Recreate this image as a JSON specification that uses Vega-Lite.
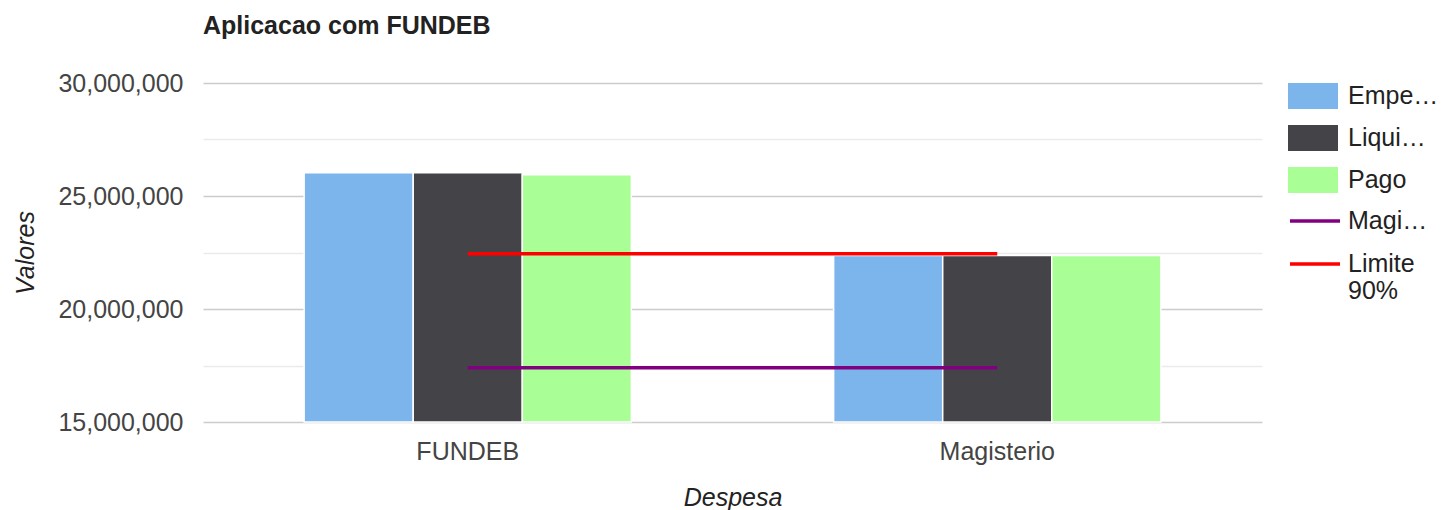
{
  "$schema": "https://vega.github.io/schema/vega-lite/v6.json",
  "width": 1059,
  "height": 339,
  "autosize": {"type": "none"},
  "padding": {"left": 203, "top": 83, "right": 179, "bottom": 88},
  "background": "white",
  "config": {"font": "Liberation Sans", "view": {"stroke": null}},
  "title": {"text": "Aplicacao com FUNDEB", "anchor": "start", "frame": "group", "fontSize": 25, "fontWeight": "bold", "color": "#222222", "font": "Liberation Sans", "offset": 12, "baseline": "alphabetic"},
  "datasets": {
    "barras": [
      {"despesa": "FUNDEB", "serie": "Empenhado", "valor": 26030000},
      {"despesa": "FUNDEB", "serie": "Liquidado", "valor": 26030000},
      {"despesa": "FUNDEB", "serie": "Pago", "valor": 25940000},
      {"despesa": "Magisterio", "serie": "Empenhado", "valor": 22370000},
      {"despesa": "Magisterio", "serie": "Liquidado", "valor": 22370000},
      {"despesa": "Magisterio", "serie": "Pago", "valor": 22370000}
    ],
    "linhas": [
      {"despesa": "FUNDEB", "serie": "Magisterio 70%", "valor": 17400000},
      {"despesa": "Magisterio", "serie": "Magisterio 70%", "valor": 17400000},
      {"despesa": "FUNDEB", "serie": "Limite 90%", "valor": 22450000},
      {"despesa": "Magisterio", "serie": "Limite 90%", "valor": 22450000}
    ]
  },
  "layer": [
    {
      "data": {"name": "barras"},
      "mark": {"type": "bar", "stroke": "#ffffff", "strokeWidth": 1.5},
      "encoding": {
        "x": {
          "field": "despesa", "type": "nominal", "sort": ["FUNDEB", "Magisterio"],
          "scale": {"paddingInner": 0.382, "paddingOuter": 0.191},
          "axis": {"labelAngle": 0, "domain": false, "ticks": false, "tickSize": 0, "labelFontSize": 25, "labelColor": "#444444", "labelBaseline": "alphabetic", "labelPadding": 37,
                   "title": "Despesa", "titleFontStyle": "italic", "titleFontWeight": "normal", "titleFontSize": 25, "titleColor": "#222222", "titleBaseline": "alphabetic", "titleY": 83}
        },
        "xOffset": {"field": "serie", "type": "nominal", "sort": ["Empenhado", "Liquidado", "Pago"], "scale": {"paddingInner": 0, "paddingOuter": 0}},
        "y": {
          "field": "valor", "type": "quantitative",
          "scale": {"domain": [15000000, 30000000], "zero": false, "nice": false},
          "axis": {
            "values": [15000000, 17500000, 20000000, 22500000, 25000000, 27500000, 30000000],
            "labelExpr": "datum.value % 5000000 == 0 ? format(datum.value, ',') : ''",
            "gridColor": {"condition": {"test": "datum.value % 5000000 == 0", "value": "#cccccc"}, "value": "#ebebeb"},
            "gridWidth": 1.5,
            "domain": false, "ticks": false, "tickSize": 0,
            "labelFontSize": 25, "labelColor": "#444444", "labelPadding": 20,
            "title": "Valores", "titleFontStyle": "italic", "titleFontWeight": "normal", "titleFontSize": 25, "titleColor": "#222222",
            "titleAngle": 270, "titleX": -170, "titleY": 169.5, "titleAlign": "center", "titleBaseline": "alphabetic"
          }
        },
        "y2": {"datum": 15000000},
        "color": {
          "field": "serie", "type": "nominal",
          "scale": {"domain": ["Empenhado", "Liquidado", "Pago"], "range": ["#7cb5ec", "#434348", "#a9ff96"]},
          "legend": {
            "orient": "none", "legendX": 1085, "legendY": -12, "title": null, "direction": "vertical",
            "symbolType": "M-1,-0.52H1V0.52H-1Z", "symbolSize": 2500, "symbolStrokeWidth": 0,
            "labelFontSize": 25, "labelColor": "#222222", "labelOffset": 10, "rowPadding": 4,
            "labelExpr": "datum.label == 'Empenhado' ? 'Empe…' : datum.label == 'Liquidado' ? 'Liqui…' : datum.label"
          }
        }
      }
    },
    {
      "data": {"name": "linhas"},
      "mark": {"type": "line", "strokeWidth": 3.5},
      "encoding": {
        "x": {"field": "despesa", "type": "nominal", "sort": ["FUNDEB", "Magisterio"]},
        "y": {"field": "valor", "type": "quantitative"},
        "stroke": {
          "field": "serie", "type": "nominal",
          "scale": {"domain": ["Magisterio 70%", "Limite 90%"], "range": ["#800080", "#ff0000"]},
          "legend": {
            "orient": "none", "legendX": 1085, "legendY": 111, "title": null, "direction": "vertical",
            "symbolType": "stroke", "symbolSize": 2500, "symbolStrokeWidth": 3.5,
            "labelFontSize": 25, "labelColor": "#222222", "labelOffset": 6, "rowPadding": 3,
            "labelExpr": "datum.label == 'Magisterio 70%' ? 'Magi…' : datum.label == 'Limite 90%' ? ['Limite', '90%'] : datum.label"
          }
        }
      }
    }
  ]
}
